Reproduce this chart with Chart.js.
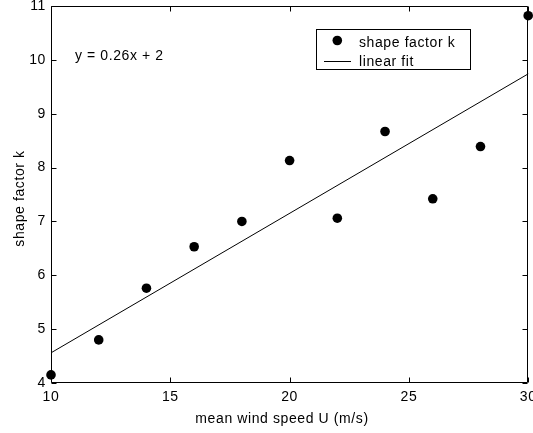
<!DOCTYPE html>
<html>
<head>
<meta charset="utf-8">
<script src="https://cdn.jsdelivr.net/npm/chart.js@4.4.1/dist/chart.umd.min.js"></script>
<style>
  html, body { margin: 0; padding: 0; background: #fff; }
  #wrap { width: 533px; height: 433px; }
</style>
</head>
<body>
<div id="wrap"><canvas id="c" width="533" height="433"></canvas></div>
<script>
// ---- data ----
const windSpeed = [10, 12, 14, 16, 18, 20, 22, 24, 26, 28, 30];
const shapeK    = [4.15, 4.80, 5.76, 6.53, 7.00, 8.13, 7.06, 8.67, 7.42, 8.39, 10.82];
const fitX      = [10, 30];
const fitY      = [4.56, 9.74];
const xTicks    = [10, 15, 20, 25, 30];
const yTicks    = [4, 5, 6, 7, 8, 9, 10, 11];
const seriesLabels = ['shape factor k', 'linear fit'];
const xTitle = 'mean wind speed U (m/s)';
const yTitle = 'shape factor k';
const fitText = 'y = 0.26x + 2';

const FONT = '"Liberation Sans", Arial, Helvetica, sans-serif';
const FS = 14;
const LS = '0.6px';

const framePlugin = {
  id: 'frame',
  beforeDraw(chart) {
    chart.ctx.letterSpacing = LS;
  },
  beforeDatasetsDraw(chart) {
    const ctx = chart.ctx;
    const a = chart.chartArea;
    const xs = chart.scales.x, ys = chart.scales.y;
    ctx.save();
    ctx.strokeStyle = '#000';
    ctx.lineWidth = 1;
    const L = Math.round(a.left) + 0.5, R = Math.round(a.right) - 0.5;
    const T = Math.round(a.top) + 0.5, B = Math.round(a.bottom) - 0.5;
    ctx.beginPath();
    ctx.rect(L, T, R - L, B - T);
    ctx.stroke();
    const tl = 5;
    ctx.beginPath();
    xs.ticks.forEach(t => {
      const p = Math.round(xs.getPixelForValue(t.value)) + 0.5;
      ctx.moveTo(p, B); ctx.lineTo(p, B - tl);
      ctx.moveTo(p, T); ctx.lineTo(p, T + tl);
    });
    ys.ticks.forEach(t => {
      const p = Math.round(ys.getPixelForValue(t.value)) + 0.5;
      ctx.moveTo(L, p); ctx.lineTo(L + tl, p);
      ctx.moveTo(R, p); ctx.lineTo(R - tl, p);
    });
    ctx.stroke();
    ctx.restore();
  },
  afterDraw(chart) {
    const ctx = chart.ctx;
    ctx.save();
    ctx.letterSpacing = LS;
    ctx.fillStyle = '#000';
    ctx.font = FS + 'px ' + FONT;
    // axis titles
    ctx.textAlign = 'center';
    ctx.textBaseline = 'alphabetic';
    ctx.fillText(xTitle, 282, 423);
    ctx.save();
    ctx.translate(23.5, 198.5);
    ctx.rotate(-Math.PI / 2);
    ctx.fillText(yTitle, 0, 0);
    ctx.restore();
    // fit equation
    ctx.textAlign = 'left';
    ctx.fillText(fitText, 75, 60);
    // legend
    const bx = 316, by = 29, bw = 154, bh = 40;
    ctx.fillStyle = '#fff';
    ctx.fillRect(bx, by, bw, bh);
    ctx.strokeStyle = '#000';
    ctx.lineWidth = 1;
    ctx.strokeRect(bx + 0.5, by + 0.5, bw, bh);
    ctx.fillStyle = '#000';
    ctx.beginPath();
    ctx.arc(337.3, 40.5, 4.8, 0, Math.PI * 2);
    ctx.fill();
    ctx.beginPath();
    ctx.moveTo(324, 61.5); ctx.lineTo(351, 61.5);
    ctx.stroke();
    ctx.fillText(chart.data.datasets[0].label, 359, 46.5);
    ctx.fillText(chart.data.datasets[1].label, 359, 65.5);
    ctx.restore();
  }
};

new Chart(document.getElementById('c'), {
  type: 'scatter',
  data: {
    datasets: [
      {
        label: seriesLabels[0],
        data: windSpeed.map((x, i) => ({ x: x, y: shapeK[i] })),
        pointRadius: 4.8,
        pointHoverRadius: 4.8,
        backgroundColor: '#000',
        borderColor: '#000',
        borderWidth: 0,
        showLine: false,
        clip: false
      },
      {
        label: seriesLabels[1],
        data: fitX.map((x, i) => ({ x: x, y: fitY[i] })),
        showLine: true,
        pointRadius: 0,
        borderColor: '#000',
        borderWidth: 1,
        fill: false,
        clip: false
      }
    ]
  },
  options: {
    responsive: false,
    animation: false,
    events: [],
    layout: { padding: { top: 6, right: 4, left: 0, bottom: 0 } },
    plugins: { legend: { display: false }, tooltip: { enabled: false } },
    scales: {
      x: {
        type: 'linear',
        min: xTicks[0], max: xTicks[xTicks.length - 1],
        afterBuildTicks(s) { s.ticks = xTicks.map(v => ({ value: v })); },
        ticks: { color: '#000', font: { family: FONT, size: FS }, padding: 6, maxRotation: 0 },
        grid: { display: false, drawTicks: false },
        border: { display: false },
        afterFit(s) { s.height = 50; s.paddingLeft = 0; s.paddingRight = 0; }
      },
      y: {
        type: 'linear',
        min: yTicks[0], max: yTicks[yTicks.length - 1],
        afterBuildTicks(s) { s.ticks = yTicks.map(v => ({ value: v })); },
        ticks: { color: '#000', font: { family: FONT, size: FS }, padding: 5 },
        grid: { display: false, drawTicks: false },
        border: { display: false },
        afterFit(s) { s.width = 51; s.paddingTop = 0; s.paddingBottom = 0; }
      }
    }
  },
  plugins: [framePlugin]
});
</script>
</body>
</html>
